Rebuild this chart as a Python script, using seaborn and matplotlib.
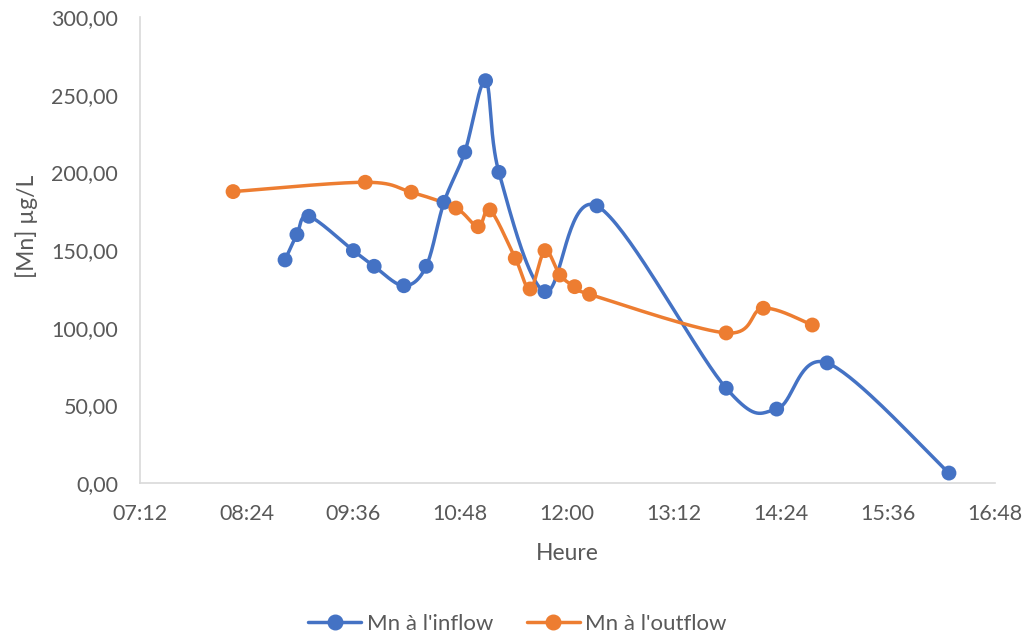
import numpy as np
import pandas as pd
import matplotlib
matplotlib.use("Agg")
import matplotlib.pyplot as plt
import seaborn as sns
from matplotlib.ticker import FuncFormatter, MultipleLocator
from matplotlib.lines import Line2D

# Sampling times and manganese concentrations (µg/L)
inflow_times = ["08:50", "08:58", "09:06", "09:36", "09:50", "10:10", "10:25", "10:37",
                "10:51", "11:05", "11:14", "11:45", "12:20", "13:47", "14:21", "14:55", "16:17"]
inflow_mn = [143.6, 159.9, 171.7, 149.6, 139.5, 127.0, 139.5, 180.7,
             213.0, 259.0, 200.0, 123.2, 178.4, 61.0, 47.6, 77.3, 6.4]

outflow_times = ["08:15", "09:44", "10:15", "10:45", "11:00", "11:08", "11:25", "11:35",
                 "11:45", "11:55", "12:05", "12:15", "13:47", "14:12", "14:45"]
outflow_mn = [187.6, 193.6, 187.2, 177.0, 165.0, 175.8, 144.7, 124.9,
              149.6, 133.9, 126.4, 121.5, 96.6, 112.5, 101.7]

series_names = ["Mn à l'inflow", "Mn à l'outflow"]
colors = ["#4472C4", "#ED7D31"]


def to_minutes(times):
    return np.array([int(t[:2]) * 60 + int(t[3:]) for t in times], dtype=float)


def smooth(x, y, n=40):
    """Cardinal Bezier smoothing through every point."""
    pts = np.column_stack([x, y])
    p = np.vstack([pts[0], pts, pts[-1]])
    t = np.linspace(0, 1, n)[:, None]
    out = []
    for i in range(1, len(p) - 2):
        p0, p1, p2, p3 = p[i - 1], p[i], p[i + 1], p[i + 2]
        c1 = p1 + (p2 - p0) / 6
        c2 = p2 - (p3 - p1) / 6
        seg = (1 - t) ** 3 * p1 + 3 * (1 - t) ** 2 * t * c1 + 3 * (1 - t) * t ** 2 * c2 + t ** 3 * p2
        out.append(seg if i == 1 else seg[1:])
    return np.vstack(out)


sns.set_theme(style="white")
plt.rcParams["font.family"] = ["Lato", "DejaVu Sans"]
text_color = "#595959"

fig = plt.figure(figsize=(10.28, 6.37), dpi=100)
ax = fig.add_axes([139.5 / 1028, 1 - 483 / 637, (995 - 139.5) / 1028, (483 - 17) / 637])

handles = []
for name, times, vals, col in [(series_names[0], inflow_times, inflow_mn, colors[0]),
                               (series_names[1], outflow_times, outflow_mn, colors[1])]:
    x = to_minutes(times)
    y = np.array(vals)
    curve = smooth(x, y)
    curve_df = pd.DataFrame({"x": curve[:, 0], "y": curve[:, 1]})
    sns.lineplot(data=curve_df, x="x", y="y", sort=False, estimator=None,
                 color=col, linewidth=2.5, ax=ax, zorder=2)
    pts_df = pd.DataFrame({"x": x, "y": y})
    sns.scatterplot(data=pts_df, x="x", y="y", color=col, s=115,
                    edgecolor="none", ax=ax, zorder=3)
    handles.append(Line2D([0], [0], color=col, lw=2.5, marker="o", markersize=10.5))

ax.set_xlim(7 * 60 + 12, 16 * 60 + 48)
ax.set_ylim(0, 300)
ax.xaxis.set_major_locator(MultipleLocator(72))
ax.yaxis.set_major_locator(MultipleLocator(50))
ax.xaxis.set_major_formatter(FuncFormatter(lambda v, p: f"{int(v // 60):02d}:{int(v % 60):02d}"))
ax.yaxis.set_major_formatter(FuncFormatter(lambda v, p: f"{v:.2f}".replace(".", ",")))
ax.tick_params(axis="both", length=0, labelsize=15.5, labelcolor=text_color)
ax.tick_params(axis="x", pad=15)
ax.tick_params(axis="y", pad=15.5)

for side in ["top", "right"]:
    ax.spines[side].set_visible(False)
for side in ["left", "bottom"]:
    ax.spines[side].set_color("#D9D9D9")
    ax.spines[side].set_linewidth(1.2)

ax.set_xlabel("Heure", fontsize=16.5, color=text_color)
ax.set_ylabel("[Mn] µg/L", fontsize=16.5, color=text_color)
ax.xaxis.set_label_coords(0.5, (483 - 553) / 466)
ax.xaxis.label.set_va("center")
ax.yaxis.set_label_coords((27 - 139.5) / 855.5, (483 - 226) / 466)
ax.yaxis.label.set_va("center")
ax.yaxis.label.set_ha("center")

fig.legend(handles, series_names, loc="center", bbox_to_anchor=(517.5 / 1028, 1 - 624 / 637),
           ncol=2, frameon=False, fontsize=16, labelcolor=text_color,
           handlelength=2.4, columnspacing=1.5, handletextpad=0.25)

fig.savefig("out.png", dpi=100)
